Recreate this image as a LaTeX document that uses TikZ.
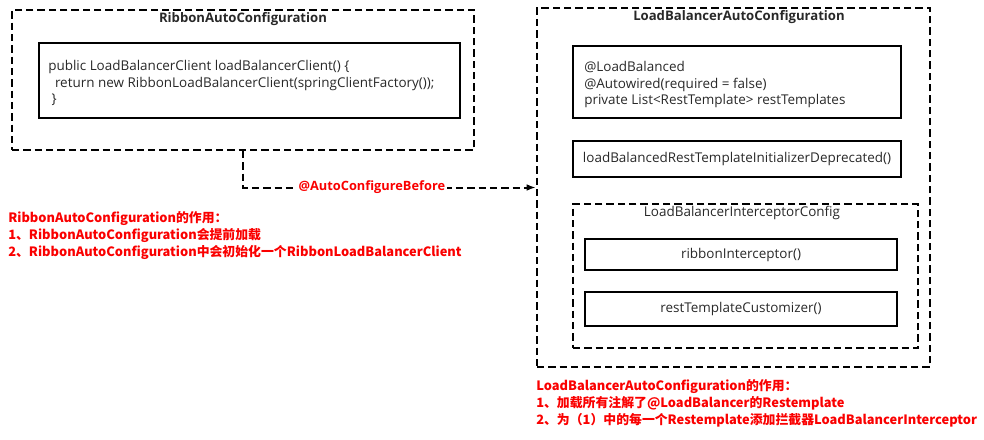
\documentclass[tikz,border=0pt]{standalone}
\usepackage{fontspec}
\setmainfont{Open Sans}
\newfontfamily\cjk{Noto Sans CJK SC}
\usetikzlibrary{arrows.meta}
\definecolor{notered}{RGB}{250,0,0}
\definecolor{codegray}{RGB}{40,40,40}
\tikzset{
  config/.style={draw, dash pattern=on 5.5pt off 3pt, line width=1.5pt, inner sep=0pt},
  method/.style={draw, line width=1.5pt, inner sep=0pt},
  code/.style={align=left, inner xsep=7.5pt, anchor=west, yshift=-2pt},
  classtitle/.style={font=\bfseries\fontsize{9.85}{12}\selectfont},
  note/.style={text=notered, font=\cjk\bfseries\fontsize{9.65}{12.75}\selectfont,
    align=left, anchor=north west, inner sep=0pt},
}
\begin{document}
\begin{tikzpicture}[x=0.75pt, y=-0.75pt, font=\fontsize{10.1}{12.4}\selectfont, text=codegray]
  \useasboundingbox (0,0) rectangle (984,439);
  % left: the ribbon configuration class
  \node[config, minimum width=346.5pt, minimum height=105pt] (ribbon) at (243,80) {};
  \node[classtitle] (ribbontitle) at (243,19) {RibbonAutoConfiguration};
  \node[method, minimum width=315.75pt, minimum height=56.25pt] (client) at (249.5,80.5) {};
  \node[code] (clientcode) at (client.west) {public LoadBalancerClient loadBalancerClient() \{\\
    \hspace{0.5em}return new RibbonLoadBalancerClient(springClientFactory());\\
    \hspace{0.25em}\}};
  % right: the load balancer configuration class
  \node[config, minimum width=294.75pt, minimum height=269.25pt] (lbauto) at (733.5,187.5) {};
  \node[classtitle] (lbtitle) at (739,17) {LoadBalancerAutoConfiguration};
  \node[method, minimum width=246pt, minimum height=54pt] (templates) at (737,82) {};
  \node[code, inner xsep=9pt] (templatescode) at (templates.west) {@LoadBalanced\\
    @Autowired(required = false)\\
    private List<RestTemplate> restTemplates};
  \node[method, minimum width=246pt, minimum height=27pt] (deprecated) at (737,159)
    {loadBalancedRestTemplateInitializerDeprecated()};
  \node[config, minimum width=258.75pt, minimum height=108pt] (interceptcfg) at (745.5,276) {};
  \node (intercepttitle) at (742,213) {LoadBalancerInterceptorConfig};
  \node[method, minimum width=234pt, minimum height=23.25pt] (ribboninter) at (741,254.5) {ribbonInterceptor()};
  \node[method, minimum width=234pt, minimum height=25.5pt] (customizer) at (741,309) {restTemplateCustomizer()};
  % ordering between the two
  \draw[line width=1.5pt, dash pattern=on 5.5pt off 3pt, -{Latex[length=7pt, width=5pt]}]
    (ribbon.south) |- (lbauto.west)
    node[pos=0.72, fill=white, inner sep=1pt, text=notered,
      font=\bfseries\fontsize{9.6}{12}\selectfont] (before) {@AutoConfigureBefore};
  % notes
  \node[note] (ribbonnote) at (8,211) {RibbonAutoConfiguration的作用：\\
    1、RibbonAutoConfiguration会提前加载\\
    2、RibbonAutoConfiguration中会初始化一个RibbonLoadBalancerClient};
  \node[note] (lbnote) at (536,379) {LoadBalancerAutoConfiguration的作用：\\
    1、加载所有注解了@LoadBalancer的Restemplate\\
    2、为（1）中的每一个Restemplate添加拦截器LoadBalancerInterceptor};
\end{tikzpicture}
\end{document}
